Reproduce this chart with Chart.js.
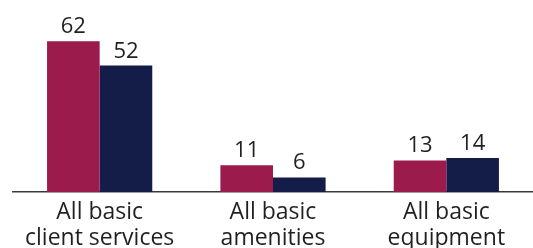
<!DOCTYPE html>
<html>
<head>
<meta charset="utf-8">
<script src="https://cdn.jsdelivr.net/npm/chart.js@4/dist/chart.umd.min.js"></script>
<style>
  html, body { margin: 0; padding: 0; background: #fff; }
  #wrap { width: 533px; height: 248px; }
</style>
</head>
<body>
<div id="wrap"><canvas id="chart"></canvas></div>
<script>
var categories = [['All basic', 'client services'], ['All basic', 'amenities'], ['All basic', 'equipment']];
var seriesA = [62, 11, 13];
var seriesB = [52, 6, 14];

// value labels over each bar
var barLabels = {
  id: 'barLabels',
  afterDatasetsDraw: function(chart) {
    var ctx = chart.ctx;
    ctx.save();
    ctx.font = '22px "Open Sans"';
    ctx.fillStyle = '#231f20';
    ctx.textAlign = 'center';
    ctx.textBaseline = 'alphabetic';
    chart.data.datasets.forEach(function(ds, i) {
      chart.getDatasetMeta(i).data.forEach(function(bar, j) {
        ctx.fillText(ds.data[j], bar.x, bar.y - 8);
      });
    });
    ctx.restore();
  }
};

new Chart(document.getElementById('chart'), {
  type: 'bar',
  data: {
    labels: categories,
    datasets: [
      { label: 'A', data: seriesA, backgroundColor: '#9a1b4c' },
      { label: 'B', data: seriesB, backgroundColor: '#131d47' }
    ]
  },
  options: {
    responsive: true,
    maintainAspectRatio: false,
    animation: false,
    layout: { padding: { left: 13, right: 0, top: 0, bottom: 0 } },
    plugins: { legend: { display: false }, tooltip: { enabled: false } },
    datasets: { bar: { barPercentage: 1, categoryPercentage: 0.607 } },
    scales: {
      x: {
        grid: { display: false },
        border: { display: true, color: '#3a3a3a', width: 1.5 },
        ticks: { color: '#231f20', font: { family: 'Open Sans', size: 23, lineHeight: 1.15 }, padding: -1, maxRotation: 0 },
        afterFit: function(s) { s.height = 56; }
      },
      y: { display: false, min: 0, max: 79 }
    }
  },
  plugins: [barLabels]
});
</script>
</body>
</html>
